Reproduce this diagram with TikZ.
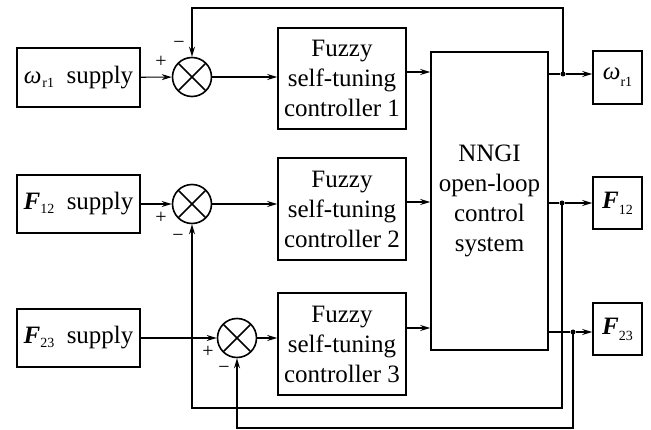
\documentclass[tikz,border=0pt]{standalone}
\usepackage{fontspec}
\setmainfont{Liberation Serif}
\usetikzlibrary{arrows.meta}
\newcommand{\lsub}[2][-4pt]{\raisebox{#1}{\fontsize{14}{14}\selectfont #2}}
\begin{document}
\begin{tikzpicture}[x=1pt,y=-1pt,
 box/.style={draw,line width=1.6pt,inner sep=0pt,align=center,font=\fontsize{25}{30}\selectfont},
 sumnode/.style={draw,circle,line width=1.6pt,minimum size=39pt,inner sep=0pt},
 arr/.style={line width=1.1pt,-{Stealth[length=10pt,width=6pt]}},
 ln/.style={line width=1.1pt},
 sgn/.style={font=\fontsize{20}{20}\selectfont,inner sep=0pt},
 dot/.style={circle,fill,inner sep=0pt,minimum size=5pt}]
\useasboundingbox (0,0) rectangle (651,430);

% supply boxes
\node[box,minimum width=123pt,minimum height=59pt] (w1) at (78.5,77.5) {{\itshape ω}\kern1pt\lsub{r1}\ \ supply};
\node[box,minimum width=123pt,minimum height=58pt] (f12) at (78.5,204) {{\bfseries\itshape F}\lsub{12}\ \ supply};
\node[box,minimum width=123pt,minimum height=58pt] (f23) at (78.5,338) {{\bfseries\itshape F}\lsub{23}\ \ supply};

% summing junctions
\node[sumnode] (s1) at (192,77) {};
\node[sumnode] (s2) at (192,204) {};
\node[sumnode] (s3) at (237,338) {};
\foreach \s in {s1,s2,s3}{
  \draw[line width=1.6pt] (\s.center) ++(-13.2,-13.2) -- ++(26.4,26.4);
  \draw[line width=1.6pt] (\s.center) ++(-13.2,13.2) -- ++(26.4,-26.4);
}

% fuzzy controllers
\node[box,minimum width=128pt,minimum height=101pt] (c1) at (342,78.5) {Fuzzy\\self-tuning\\controller 1};
\node[box,minimum width=128pt,minimum height=102pt] (c2) at (342,209) {Fuzzy\\self-tuning\\controller 2};
\node[box,minimum width=128pt,minimum height=102pt] (c3) at (342,344) {Fuzzy\\self-tuning\\controller 3};

% NNGI
\node[box,minimum width=117pt,minimum height=298pt] (nn) at (489.5,201) {NNGI\\open-loop\\control\\system};

% output boxes
\node[box,minimum width=49pt,minimum height=53pt] (o1) at (617.5,77.5) {{\itshape ω}\lsub[-7pt]{r1}};
\node[box,minimum width=49pt,minimum height=52pt] (o2) at (617.5,203) {{\bfseries\itshape F}\lsub[-6pt]{12}};
\node[box,minimum width=49pt,minimum height=52pt] (o3) at (617.5,329) {{\bfseries\itshape F}\lsub[-6pt]{23}};

% branch points
\node[dot] (d1) at (563,74) {};
\node[dot] (d2) at (562,203) {};
\node[dot] (d3) at (573,332) {};

% forward paths
\draw[arr] (w1) -- (s1);
\draw[arr] (f12) -- (s2);
\draw[arr] (f23.east |- s3) -- (s3);
\draw[arr] (s1) -- (c1.west |- s1);
\draw[arr] (s2) -- (c2.west |- s2);
\draw[arr] (s3) -- (c3.west |- s3);
\draw[arr] (c1.east |- 0,72) -- (nn.west |- 0,72);
\draw[arr] (c2.east |- 0,202) -- (nn.west |- 0,202);
\draw[arr] (c3.east |- 0,328) -- (nn.west |- 0,328);
\draw[ln] (nn.east |- d1) -- (d1);
\draw[ln] (nn.east |- d2) -- (d2);
\draw[ln] (nn.east |- d3) -- (d3);
\draw[arr] (d1) -- (o1.west |- d1);
\draw[arr] (d2) -- (o2.west |- d2);
\draw[arr] (d3) -- (o3.west |- d3);

% feedback paths
\draw[arr] (d1.center) -- (563,8) -| (s1.north);
\draw[arr] (d2.center) -- (562,408) -| (s2.south);
\draw[arr] (d3.center) -- (573,428) -| (s3.south);

% signs
\node[sgn] (p1) at (161,62) {+};
\node[sgn] (m1) at (179,45) {−};
\node[sgn] (p2) at (161,218) {+};
\node[sgn] (m2) at (178,238) {−};
\node[sgn] (p3) at (208,352) {+};
\node[sgn] (m3) at (224,370) {−};
\end{tikzpicture}
\end{document}
